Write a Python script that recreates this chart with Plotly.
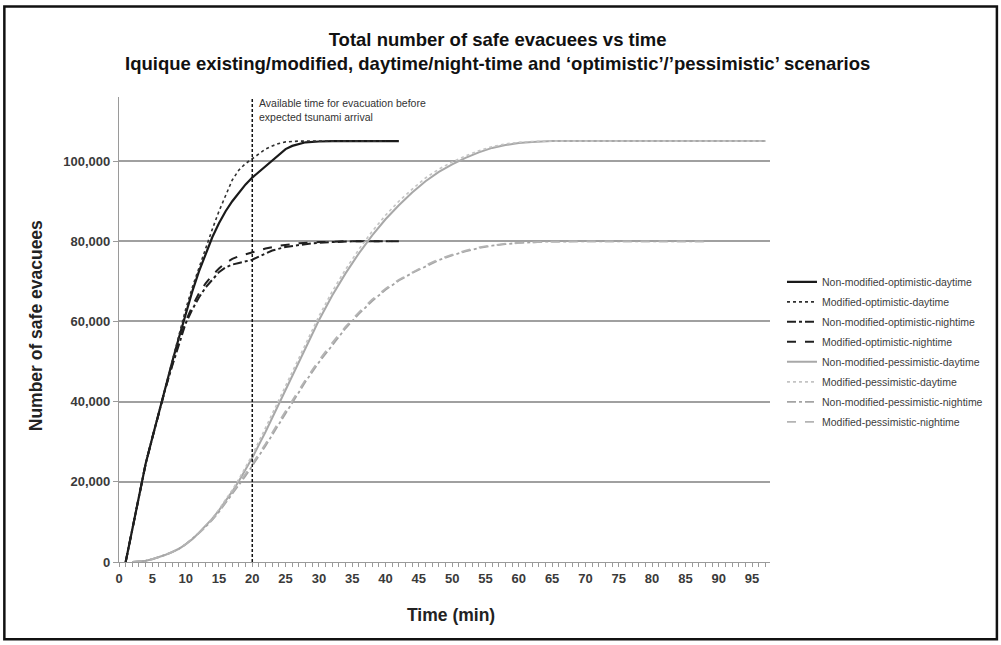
import plotly.graph_objects as go

# ---------------- data ----------------
# Optimistic scenarios (black)
t_opt_day_nm = [1, 2, 3, 4, 5, 6, 7, 8, 9, 10, 11, 12, 13, 14, 15, 16, 17, 18, 19, 20,
                21, 22, 23, 24, 25, 26, 27, 28, 30, 32, 42]
v_opt_day_nm = [0, 8000, 16500, 24500, 31000, 37500, 44000, 50000, 56000, 62000, 67500,
                72500, 77000, 81000, 84500, 87500, 90000, 92200, 94200, 95900, 97300,
                98800, 100200, 101700, 103000, 103800, 104300, 104700, 104900, 105000, 105000]

t_opt_day_m = [1, 2, 3, 4, 5, 6, 7, 8, 9, 10, 11, 12, 13, 14, 15, 16, 17, 18, 19, 20,
               21, 22, 23, 24, 25, 27, 40]
v_opt_day_m = [0, 8000, 16500, 24500, 31000, 37500, 44000, 50300, 56800, 63000, 68500,
               73500, 78300, 83000, 87500, 91500, 95300, 97800, 99400, 100600, 101900,
               103000, 103800, 104400, 104800, 105000, 105000]

t_opt_night_nm = [1, 2, 3, 4, 5, 6, 7, 8, 9, 10, 11, 12, 13, 14, 15, 16, 17, 18, 19, 20,
                  21, 22, 23, 25, 27, 29, 32, 35, 42]
v_opt_night_nm = [0, 8000, 16500, 24500, 31000, 37500, 43500, 49000, 54500, 59500, 63000,
                  66000, 68500, 70500, 72300, 73500, 74200, 74600, 75000, 75400, 76200,
                  77000, 77700, 78600, 79100, 79500, 79800, 80000, 80000]

t_opt_night_m = [1, 2, 3, 4, 5, 6, 7, 8, 9, 10, 11, 12, 13, 14, 15, 16, 17, 18, 19, 20,
                 22, 24, 27, 30, 34, 41]
v_opt_night_m = [0, 8000, 16500, 24500, 31000, 37500, 43500, 49300, 55000, 60000, 63800,
                 67000, 69500, 71500, 73200, 74600, 75600, 76300, 76800, 77200, 78200,
                 78900, 79500, 79800, 80000, 80000]

# Pessimistic scenarios (grey)
t_pes = [2, 3, 4, 5, 6, 7, 8, 9, 10, 11, 12, 13, 14, 15, 16, 17, 18, 19, 20, 22, 24, 26,
         28, 30, 32, 34, 36, 38, 40, 42, 44, 46, 48, 50, 52, 54, 56, 58, 60, 62, 65, 70, 97]
v_pes_day_nm = [0, 100, 300, 700, 1200, 1800, 2500, 3300, 4400, 5700, 7300, 9000, 10800,
                12900, 15200, 17600, 20200, 23000, 26000, 32500, 39500, 46500, 53500,
                60300, 66500, 72000, 77000, 81500, 85500, 89000, 92200, 95000, 97300,
                99200, 100800, 102200, 103300, 104000, 104500, 104800, 105000, 105000, 105000]
v_pes_day_m = [0, 100, 300, 700, 1200, 1800, 2500, 3300, 4400, 5700, 7300, 9000, 10900,
               13100, 15500, 18000, 20700, 23600, 26700, 33500, 40500, 47500, 54500,
               61300, 67500, 73000, 78000, 82500, 86500, 90000, 93000, 95800, 98000,
               99800, 101300, 102600, 103600, 104300, 104700, 104900, 105000, 105000, 105000]

t_pes_night = [2, 3, 4, 5, 6, 7, 8, 9, 10, 11, 12, 13, 14, 15, 16, 17, 18, 19, 20, 22, 24,
               26, 28, 30, 32, 34, 36, 38, 40, 42, 44, 46, 48, 50, 52, 54, 56, 58, 60, 64,
               70, 88]
v_pes_night_nm = [0, 100, 300, 700, 1200, 1800, 2500, 3300, 4400, 5700, 7200, 8800, 10500,
                  12500, 14700, 16900, 19100, 21500, 24000, 29000, 34400, 39700, 45000,
                  49800, 54200, 58300, 61900, 65100, 67900, 70200, 72100, 73800, 75300,
                  76500, 77500, 78300, 78900, 79300, 79600, 79900, 80000, 80000]
v_pes_night_m = [0, 100, 300, 700, 1200, 1800, 2500, 3300, 4400, 5700, 7200, 8800, 10600,
                 12700, 15000, 17200, 19500, 22000, 24500, 29500, 35000, 40300, 45500,
                 50300, 54700, 58700, 62300, 65500, 68200, 70400, 72300, 74000, 75500,
                 76700, 77700, 78500, 79000, 79400, 79600, 79900, 80000, 80000]

evac_time = 20
x_ticks = list(range(0, 100, 5))
y_ticks = [0, 20000, 40000, 60000, 80000, 100000]
y_tick_text = ["0", "20,000", "40,000", "60,000", "80,000", "100,000"]

series = [
    ("Non-modified-optimistic-daytime", t_opt_day_nm, v_opt_day_nm, "#1a1a1a", 2.2, "solid"),
    ("Modified-optimistic-daytime", t_opt_day_m, v_opt_day_m, "#303030", 1.6, "dot"),
    ("Non-modified-optimistic-nightime", t_opt_night_nm, v_opt_night_nm, "#202020", 2.0, "dashdot"),
    ("Modified-optimistic-nightime", t_opt_night_m, v_opt_night_m, "#202020", 2.0, "dash"),
    ("Non-modified-pessimistic-daytime", t_pes, v_pes_day_nm, "#a8a8a8", 2.0, "solid"),
    ("Modified-pessimistic-daytime", t_pes, v_pes_day_m, "#c4c4c4", 1.6, "dot"),
    ("Non-modified-pessimistic-nightime", t_pes_night, v_pes_night_nm, "#a4a4a4", 1.8, "dashdot"),
    ("Modified-pessimistic-nightime", t_pes_night, v_pes_night_m, "#b4b4b4", 1.8, "dash"),
]

# ---------------- layout geometry ----------------
W, H = 1001, 645
L, R, T, B = 118.7, 770.0, 96.7, 562.5


def px_x(p):
    return (p - L) / (R - L)


def px_y(p):
    return (B - p) / (B - T)


fig = go.Figure()
for i, (name, xs, ys, col, wd, dash) in enumerate(series):
    fig.add_trace(go.Scatter(
        x=xs, y=ys, mode="lines", name=name, legendgroup=f"g{i}",
        line=dict(color=col, width=wd, dash=dash),
    ))

# vertical evacuation-time line
fig.add_shape(type="line", x0=evac_time, x1=evac_time, y0=0, y1=116000,
              xref="x", yref="y", line=dict(color="#111111", width=1.5, dash="3px,2px"))

# outer frame
fig.add_shape(type="rect", xref="paper", yref="paper",
              x0=px_x(4), x1=px_x(997), y0=px_y(640), y1=px_y(6),
              line=dict(color="#111111", width=2.5), layer="below")

font_family = "Liberation Sans, Arial, sans-serif"

fig.add_annotation(xref="paper", yref="paper", x=px_x(256.5), y=px_y(110),
                   xanchor="left", yanchor="middle", showarrow=False, align="left",
                   text="Available time for evacuation before<br>expected tsunami arrival",
                   font=dict(family=font_family, size=10.5, color="#333333"))

fig.add_annotation(xref="paper", yref="paper", x=px_x(36), y=px_y(326),
                   xanchor="center", yanchor="middle", showarrow=False, textangle=-90,
                   text="<b>Number of safe evacuees</b>",
                   font=dict(family=font_family, size=17.5, color="#222222"))

fig.add_annotation(xref="paper", yref="paper", x=px_x(451), y=px_y(616),
                   xanchor="center", yanchor="middle", showarrow=False,
                   text="<b>Time (min)</b>",
                   font=dict(family=font_family, size=17.5, color="#222222"))

fig.add_annotation(xref="paper", yref="paper", x=px_x(497), y=px_y(51),
                   xanchor="center", yanchor="middle", showarrow=False,
                   text="<b>Total number of safe evacuees vs time<br>"
                        "Iquique existing/modified, daytime/night-time and "
                        "\u2018optimistic\u2019/\u2019pessimistic\u2019 scenarios</b>",
                   font=dict(family=font_family, size=18.5, color="#111111"))

fig.update_layout(
    width=W, height=H,
    margin=dict(l=L, r=W - R, t=T, b=H - B, pad=0),
    paper_bgcolor="white", plot_bgcolor="white",
    font=dict(family=font_family, color="#333333"),
    showlegend=True,
    legend=dict(x=px_x(782), y=px_y(352), xanchor="left", yanchor="middle",
                font=dict(family=font_family, size=10.5, color="#404040"),
                traceorder="grouped", tracegroupgap=1, bgcolor="rgba(0,0,0,0)",
                itemwidth=30),
    xaxis=dict(range=[0, 97.7], tickmode="array", tickvals=x_ticks,
               ticktext=[f"<b>{v}</b>" for v in x_ticks],
               showgrid=False, zeroline=False, showline=True, linecolor="#9a9a9a",
               linewidth=1.2, ticks="outside", ticklen=4, tickcolor="#9a9a9a",
               tickfont=dict(family=font_family, size=13, color="#3a3a3a"),
               minor=dict(dtick=1, ticks="outside", ticklen=4, tickcolor="#9a9a9a",
                          showgrid=False)),
    yaxis=dict(range=[0, 116000], tickmode="array", tickvals=y_ticks,
               ticktext=[f"<b>{t}</b>" for t in y_tick_text],
               showgrid=True, gridcolor="#a0a0a0", gridwidth=1.5, zeroline=False,
               showline=True, linecolor="#9a9a9a", linewidth=1.2, ticks="outside",
               ticklen=5, tickcolor="#9a9a9a",
               tickfont=dict(family=font_family, size=13, color="#3a3a3a")),
)

fig.write_html("out.html", config={"displayModeBar": False},
               post_script="document.body.style.margin='0';")
